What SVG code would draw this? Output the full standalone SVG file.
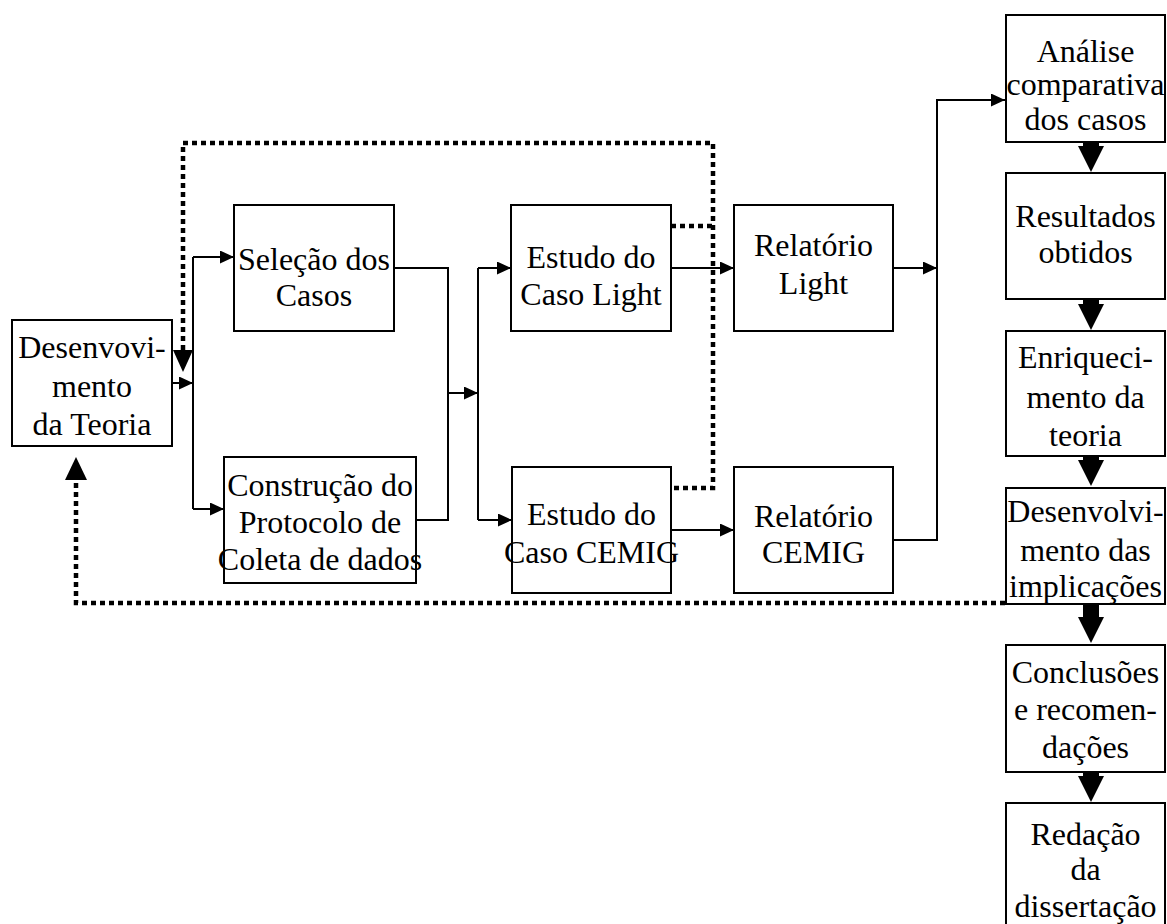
<svg xmlns="http://www.w3.org/2000/svg" width="1167" height="924" viewBox="0 0 1167 924">
<style>
.box{fill:#fff;stroke:#000;stroke-width:2}
.t{font-family:"Liberation Serif","Times New Roman",serif;font-size:32px;fill:#000;text-anchor:middle}
.ln{fill:none;stroke:#000;stroke-width:2}
.dot{fill:none;stroke:#000;stroke-width:4.5;stroke-dasharray:5 4}
.ah{fill:#000}
</style>
<defs>
<marker id="a" markerUnits="userSpaceOnUse" markerWidth="15" markerHeight="14" refX="14" refY="6.5" orient="auto">
<path d="M0,0 L14,6.5 L0,13 z" fill="#000"/>
</marker>
</defs>
<rect width="1167" height="924" fill="#fff"/>
<g id="connectors">
<path class="ln" d="M172,383 H193" marker-end="url(#a)"/>
<path class="ln" d="M193,257 V509"/>
<path class="ln" d="M193,257 H234" marker-end="url(#a)"/>
<path class="ln" d="M193,509 H224" marker-end="url(#a)"/>
<path class="ln" d="M394,268 H448 V520 H416"/>
<path class="ln" d="M448,393 H478" marker-end="url(#a)"/>
<path class="ln" d="M478,268 V520"/>
<path class="ln" d="M478,268 H511" marker-end="url(#a)"/>
<path class="ln" d="M478,520 H512" marker-end="url(#a)"/>
<path class="ln" d="M671,268 H734" marker-end="url(#a)"/>
<path class="ln" d="M671,530 H734" marker-end="url(#a)"/>
<path class="ln" d="M893,268 H937" marker-end="url(#a)"/>
<path class="ln" d="M893,540 H937 V100 H1005" marker-end="url(#a)"/>
<path class="dot" d="M183,350 V143 H713 V488 H671"/>
<path class="dot" d="M671,226 H713"/>
<path class="dot" d="M1005,603 H76 V480"/>
<polygon class="ah" points="173,350 193,350 183,372"/>
<polygon class="ah" points="65,480 87,480 76,457"/>
<polygon class="ah" points="1083,142 1099,142 1099,146 1104,146 1091,172 1078,146 1083,146"/>
<polygon class="ah" points="1083,299 1099,299 1099,304 1104,304 1091,330 1078,304 1083,304"/>
<polygon class="ah" points="1083,456 1099,456 1099,460 1104,460 1091,486 1078,460 1083,460"/>
<polygon class="ah" points="1083,604 1099,604 1099,617 1104,617 1091,643 1078,617 1083,617"/>
<polygon class="ah" points="1083,772 1099,772 1099,776 1104,776 1091,802 1078,776 1083,776"/>
</g>
<g id="n_desenv_teoria">
<rect class="box" x="12" y="320" width="160" height="126"/>
<text class="t" x="92" y="358">Desenvovi-</text>
<text class="t" x="92" y="397">mento</text>
<text class="t" x="92" y="435">da Teoria</text>
</g>
<g id="n_selecao">
<rect class="box" x="234" y="205" width="160" height="126"/>
<text class="t" x="314" y="270">Seleção dos</text>
<text class="t" x="314" y="306">Casos</text>
</g>
<g id="n_construcao">
<rect class="box" x="224" y="457" width="192" height="126"/>
<text class="t" x="320" y="496">Construção do</text>
<text class="t" x="320" y="533">Protocolo de</text>
<text class="t" x="320" y="570">Coleta de dados</text>
</g>
<g id="n_estudo_light">
<rect class="box" x="511" y="205" width="160" height="126"/>
<text class="t" x="591" y="268">Estudo do</text>
<text class="t" x="591" y="305">Caso Light</text>
</g>
<g id="n_estudo_cemig">
<rect class="box" x="512" y="467" width="159" height="126"/>
<text class="t" x="591.5" y="525">Estudo do</text>
<text class="t" x="591.5" y="563">Caso CEMIG</text>
</g>
<g id="n_rel_light">
<rect class="box" x="734" y="205" width="159" height="126"/>
<text class="t" x="813.5" y="256">Relatório</text>
<text class="t" x="813.5" y="294">Light</text>
</g>
<g id="n_rel_cemig">
<rect class="box" x="734" y="467" width="159" height="126"/>
<text class="t" x="813.5" y="527">Relatório</text>
<text class="t" x="813.5" y="563">CEMIG</text>
</g>
<g id="n_analise">
<rect class="box" x="1006" y="15" width="159" height="127"/>
<text class="t" x="1085.5" y="62">Análise</text>
<text class="t" x="1085.5" y="95">comparativa</text>
<text class="t" x="1085.5" y="130">dos casos</text>
</g>
<g id="n_resultados">
<rect class="box" x="1006" y="173" width="159" height="126"/>
<text class="t" x="1085.5" y="227">Resultados</text>
<text class="t" x="1085.5" y="263">obtidos</text>
</g>
<g id="n_enriquecimento">
<rect class="box" x="1006" y="331" width="159" height="125"/>
<text class="t" x="1085.5" y="368">Enriqueci-</text>
<text class="t" x="1085.5" y="408">mento da</text>
<text class="t" x="1085.5" y="446">teoria</text>
</g>
<g id="n_implicacoes">
<rect class="box" x="1006" y="488" width="159" height="116"/>
<text class="t" x="1085.5" y="522">Desenvolvi-</text>
<text class="t" x="1085.5" y="561">mento das</text>
<text class="t" x="1085.5" y="597">implicações</text>
</g>
<g id="n_conclusoes">
<rect class="box" x="1006" y="645" width="159" height="127"/>
<text class="t" x="1085.5" y="683">Conclusões</text>
<text class="t" x="1085.5" y="720">e recomen-</text>
<text class="t" x="1085.5" y="758">dações</text>
</g>
<g id="n_redacao">
<rect class="box" x="1006" y="803" width="159" height="130"/>
<text class="t" x="1085.5" y="845">Redação</text>
<text class="t" x="1085.5" y="880">da</text>
<text class="t" x="1085.5" y="917">dissertação</text>
</g>
</svg>
